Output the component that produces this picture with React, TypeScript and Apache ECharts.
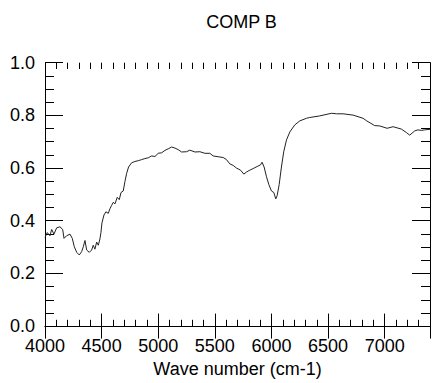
import React, { useEffect, useRef } from "react";
import * as echarts from "echarts";

const titleText = "COMP B";
const xAxisName = "Wave number (cm-1)";
const wavenumbers = [
  4000, 4020, 4044, 4059, 4079, 4103, 4132, 4156, 4168, 4191, 4221, 4241, 4259, 4280, 4303, 4324,
  4338, 4353, 4368, 4391, 4412, 4426, 4441, 4456, 4471, 4485, 4494, 4503, 4521, 4538, 4559, 4574,
  4588, 4603, 4618, 4638, 4656, 4671, 4691, 4706, 4721, 4738, 4765, 4794, 4824, 4853, 4882, 4912,
  4941, 4971, 5000, 5030, 5059, 5088, 5118, 5147, 5176, 5206, 5250, 5279, 5324, 5368, 5412, 5456,
  5485, 5529, 5574, 5603, 5632, 5662, 5691, 5727, 5756, 5780, 5809, 5838, 5874, 5903, 5917, 5935,
  5956, 5977, 6000, 6021, 6038, 6050, 6068, 6088, 6109, 6133, 6162, 6206, 6250, 6309, 6338, 6426,
  6530, 6574, 6632, 6721, 6809, 6838, 6912, 6956, 7021, 7074, 7147, 7191, 7221, 7265, 7294, 7324,
  7353, 7400,
];
const intensities = [
  0.337, 0.355, 0.343, 0.367, 0.349, 0.373, 0.377, 0.367, 0.333, 0.343, 0.349, 0.333, 0.301, 0.28, 0.27, 0.283,
  0.301, 0.325, 0.289, 0.28, 0.289, 0.307, 0.292, 0.319, 0.307, 0.331, 0.355, 0.392, 0.422, 0.434, 0.428, 0.446,
  0.458, 0.47, 0.464, 0.489, 0.48, 0.507, 0.513, 0.549, 0.58, 0.604, 0.62, 0.625, 0.628, 0.632, 0.636, 0.639,
  0.646, 0.644, 0.656, 0.658, 0.667, 0.673, 0.68, 0.676, 0.67, 0.661, 0.662, 0.668, 0.661, 0.662, 0.656, 0.656,
  0.646, 0.643, 0.64, 0.632, 0.616, 0.61, 0.6, 0.592, 0.577, 0.585, 0.592, 0.598, 0.606, 0.612, 0.622, 0.604,
  0.567, 0.537, 0.513, 0.507, 0.483, 0.495, 0.537, 0.604, 0.664, 0.707, 0.737, 0.764, 0.779, 0.789, 0.792, 0.798,
  0.808, 0.806, 0.806, 0.801, 0.789, 0.78, 0.761, 0.76, 0.751, 0.757, 0.748, 0.735, 0.725, 0.741, 0.745, 0.743,
  0.745, 0.747,
];
const xMin = 4000;
const xMax = 7400;
const xMajor = 500;
const xMinor = 100;
const yMin = 0;
const yMax = 1;
const yMajor = 0.2;

const FONT = "'Liberation Sans', Arial, Helvetica, sans-serif";
const FS = 18;

export default function App() {
  const ref = useRef<HTMLDivElement>(null);
  useEffect(() => {
    if (!ref.current) return;
    const chart = echarts.init(ref.current, null, { renderer: "svg" });
    const lineStyle = { color: "#000", width: 1 };
    const xBase = { type: "value", min: xMin, max: xMax, splitLine: { show: false } };
    const yBase = { type: "value", min: yMin, max: yMax, splitLine: { show: false } };
    chart.setOption({
      animation: false,
      backgroundColor: "#fff",
      textStyle: { fontFamily: FONT },
      grid: { left: 45, right: 2, top: 62.7, bottom: 45.3, containLabel: false },
      graphic: [
        {
          type: "text",
          x: 241.5,
          y: 22,
          style: {
            text: titleText,
            textAlign: "center",
            textVerticalAlign: "middle",
            fontSize: FS,
            fontFamily: FONT,
            fill: "#000",
          },
        },
      ],
      xAxis: [
        {
          ...xBase,
          position: "bottom",
          interval: xMajor,
          axisLine: { show: true, lineStyle },
          axisTick: { show: true, inside: true, length: 12.5, lineStyle },
          axisLabel: {
            show: true,
            color: "#000",
            fontSize: FS,
            fontFamily: FONT,
            margin: 11,
            showMaxLabel: false,
            formatter: (v: number) => String(v),
          },
          name: xAxisName,
          nameLocation: "middle",
          nameGap: 28,
          nameTextStyle: { color: "#000", fontSize: FS, fontFamily: FONT, verticalAlign: "top" },
        },
        {
          ...xBase,
          position: "top",
          interval: xMajor,
          axisLine: { show: true, lineStyle },
          axisTick: { show: true, inside: true, length: 12.5, lineStyle },
          axisLabel: { show: false },
        },
        {
          ...xBase,
          position: "bottom",
          interval: xMinor,
          axisLine: { show: false },
          axisTick: { show: true, inside: true, length: 6.3, lineStyle },
          axisLabel: { show: false },
        },
        {
          ...xBase,
          position: "top",
          interval: xMinor,
          axisLine: { show: false },
          axisTick: { show: true, inside: true, length: 6.3, lineStyle },
          axisLabel: { show: false },
        },
      ],
      yAxis: [
        {
          ...yBase,
          position: "left",
          interval: yMajor,
          axisLine: { show: true, lineStyle },
          axisTick: { show: true, inside: true, length: 18, lineStyle },
          minorTick: { show: true, splitNumber: 4, length: 9, lineStyle },
          axisLabel: {
            show: true,
            color: "#000",
            fontSize: FS,
            fontFamily: FONT,
            margin: 10,
            formatter: (v: number) => v.toFixed(1),
          },
        },
        {
          ...yBase,
          position: "right",
          interval: yMajor,
          axisLine: { show: true, lineStyle },
          axisTick: { show: true, inside: true, length: 18, lineStyle },
          minorTick: { show: true, splitNumber: 4, length: 9, lineStyle },
          axisLabel: { show: false },
        },
      ],
      series: [
        {
          type: "line",
          xAxisIndex: 0,
          yAxisIndex: 0,
          data: wavenumbers.map((w, i) => [w, intensities[i]]),
          showSymbol: false,
          symbol: "none",
          lineStyle: { color: "#222", width: 1 },
          silent: true,
        },
      ],
    });
    return () => chart.dispose();
  }, []);
  return (
    <div
      ref={ref}
      style={{ position: "fixed", left: 0, top: 0, width: 432, height: 383, background: "#fff" }}
    />
  );
}
